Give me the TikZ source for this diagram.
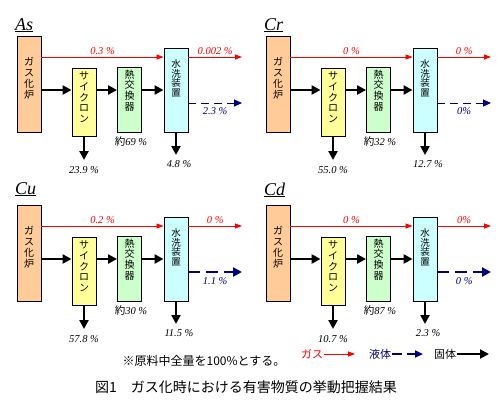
\documentclass[tikz,border=0pt]{standalone}
\usepackage{fontspec}
\usepackage{xcolor}
\usetikzlibrary{arrows.meta, positioning}

\newfontfamily\jpfont{Noto Sans CJK JP}
\newfontfamily\numfont{Liberation Serif}

\definecolor{gasfill}{HTML}{FFCC99}
\definecolor{cycfill}{HTML}{FFFF99}
\definecolor{hexfill}{HTML}{CCFFCC}
\definecolor{washfill}{HTML}{CCFFFF}
\definecolor{liqblue}{HTML}{000080}

\tikzset{
  unit/.style={draw=black, line width=0.9pt, minimum width=24pt, inner sep=0pt},
  vtext/.style={font=\jpfont\fontsize{10}{10.8}\selectfont, align=center, inner sep=0pt},
  title/.style={font=\numfont\itshape\fontsize{18}{18}\selectfont, anchor=base west, inner sep=0pt},
  val/.style={font=\numfont\itshape\fontsize{10.5}{10.5}\selectfont, inner sep=1pt},
  gaslabel/.style={val, text=red},
  liqlabel/.style={val, text=liqblue},
  gasflow/.style={red, line width=0.8pt, -{Triangle[length=7pt,width=5pt]}},
  liqflow/.style={liqblue, line width=1pt, dash pattern=on 8pt off 5pt, -{Triangle[length=8pt,width=7pt]}},
  solidflow/.style={black, line width=2.6pt, -{Triangle[length=9pt,width=9pt]}},
}

% #1 prefix, #2 gas to scrubber, #3 gas out, #4 liquid, #5 cyclone, #6 heat exchanger, #7 scrubber
\newcommand{\flowpanel}[7]{%
  \node[unit, fill=gasfill, minimum height=96pt] (#1gas) at (29,84) {};
  \node[unit, fill=cycfill, minimum height=68pt] (#1cyc) at (84,102) {};
  \node[unit, fill=hexfill, minimum height=65pt] (#1hex) at (129.5,99.5) {};
  \node[unit, fill=washfill, minimum height=84pt] (#1wash) at (176,90) {};
  \node[vtext, below=22pt of #1gas.north] (#1gastext) {ガ\\ス\\化\\炉};
  \node[vtext, below=4pt of #1cyc.north] (#1cyctext) {サ\\イ\\ク\\ロ\\ン};
  \node[vtext, below=3pt of #1hex.north] (#1hextext) {熱\\交\\換\\器};
  \node[vtext, below=12pt of #1wash.north, font=\jpfont\fontsize{9.5}{9.6}\selectfont] (#1washtext) {水\\洗\\装\\置};
  \coordinate (#1gy) at (0,57);
  \coordinate (#1ly) at (0,103);
  \coordinate (#1gasend) at (242,57);
  \coordinate (#1liqend) at (242,103);
  \coordinate (#1cycend) at (84,160);
  \coordinate (#1washend) at (176,155);
  \draw[gasflow] (#1gas.east |- #1gy) -- node[gaslabel, above=1pt] (#1gasval) {#2} (#1wash.west |- #1gy);
  \draw[gasflow] (#1wash.east |- #1gy) -- node[gaslabel, above=1pt] (#1outval) {#3} (#1gasend);
  \draw[liqflow] (#1wash.east |- #1ly) -- node[liqlabel, below=3pt] (#1liqval) {#4} (#1liqend);
  \draw[solidflow] (#1gas.east |- #1wash) -- (#1cyc.west |- #1wash);
  \draw[solidflow] (#1cyc.east |- #1wash) -- (#1hex.west |- #1wash);
  \draw[solidflow] (#1hex.east |- #1wash) -- (#1wash.west);
  \draw[solidflow] (#1cyc.south) -- (#1cycend);
  \draw[solidflow] (#1wash.south) -- (#1washend);
  \node[val] (#1cycval) at (84,170) {#5};
  \node[val] (#1hexval) at (131,142) {#6};
  \node[val] (#1washval) at (179,164) {#7};
}

\begin{document}
\begin{tikzpicture}[x=1pt, y=-1pt]
\useasboundingbox[fill=white] (0,0) rectangle (500,400);

\node[title] (astitle) at (15,30) {\underline{As}};
\flowpanel{as}{0.3 \%}{0.002 \%}{2.3 \%}{23.9 \%}{{\jpfont 約}69 \%}{4.8 \%}

\begin{scope}[shift={(249,0)}]
\node[title] (crtitle) at (15,30) {\underline{Cr}};
\flowpanel{cr}{0 \%}{0 \%}{0\%}{55.0 \%}{{\jpfont 約}32 \%}{12.7 \%}
\end{scope}

\begin{scope}[shift={(0,169)}, liqflow/.append style={line width=2.4pt, dash pattern=on 12pt off 6pt, -{Triangle[length=9pt,width=9pt]}}]
\node[title] (cutitle) at (15,25) {\underline{Cu}};
\flowpanel{cu}{0.2 \%}{0 \%}{1.1 \%}{57.8 \%}{{\jpfont 約}30 \%}{11.5 \%}
\end{scope}

\begin{scope}[shift={(249,169)}, liqflow/.append style={line width=2.4pt, dash pattern=on 12pt off 6pt, -{Triangle[length=9pt,width=9pt]}}]
\node[title] (cdtitle) at (15,26) {\underline{Cd}};
\flowpanel{cd}{0 \%}{0\%}{0 \%}{10.7 \%}{{\jpfont 約}87 \%}{2.3 \%}
\end{scope}

% legend and caption
\node[font=\jpfont\fontsize{12}{12}\selectfont] (note) at (204,361) {※原料中全量を100\%とする。};
\node[font=\jpfont\fontsize{11}{11}\selectfont, text=red, inner sep=1pt] (leggas) at (312,354) {ガス};
\node[font=\jpfont\fontsize{11}{11}\selectfont, text=liqblue, inner sep=1pt] (legliq) at (380,354) {液体};
\node[font=\jpfont\fontsize{11}{11}\selectfont, inner sep=1pt] (legsol) at (445,354) {固体};
\coordinate (leggasend) at (355,354);
\coordinate (legliqend) at (423,354);
\coordinate (legsolend) at (489,354);
\draw[gasflow] (leggas.east) -- (leggasend);
\draw[liqflow, line width=2.2pt, dash pattern=on 10pt off 5pt] (legliq.east) -- (legliqend);
\draw[solidflow, line width=2pt] (legsol.east) -- (legsolend);

\node[font=\jpfont\fontsize{14}{14}\selectfont, anchor=west, inner sep=0pt] (caption) at (95,387) {図1　ガス化時における有害物質の挙動把握結果};

\end{tikzpicture}
\end{document}
